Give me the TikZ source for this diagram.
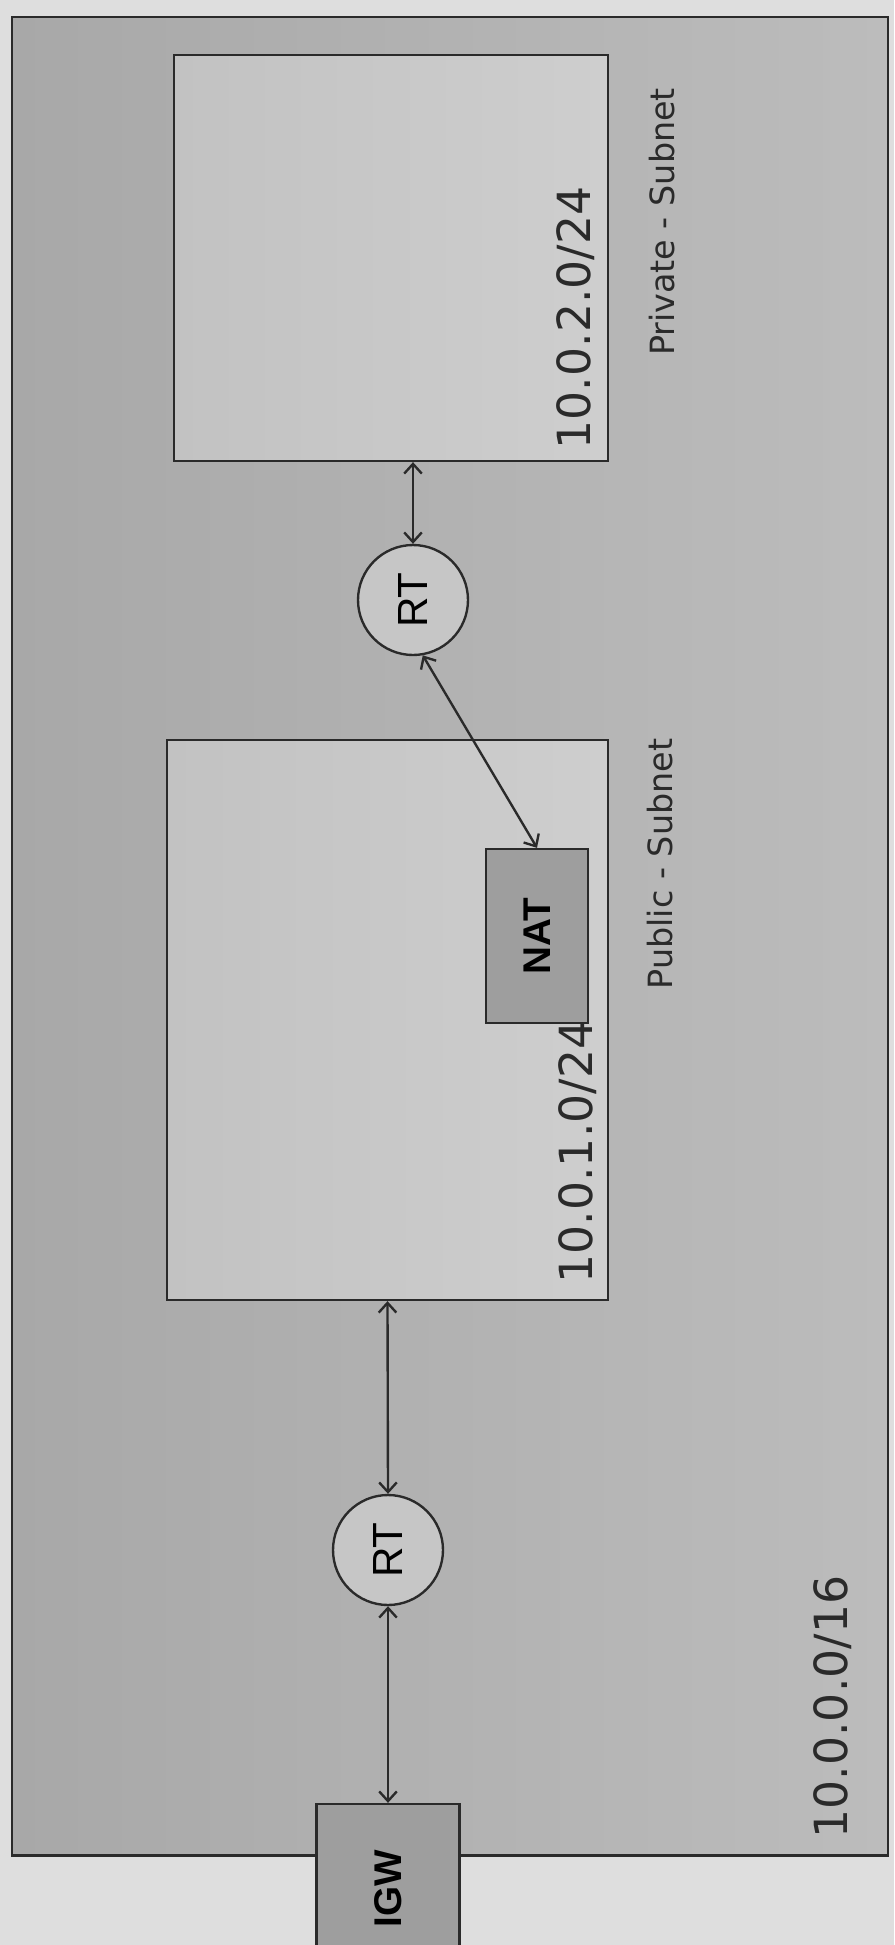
\documentclass[tikz,border=0pt]{standalone}
\usepackage{fontspec}
\setmainfont{DejaVu Sans}
\newfontfamily\tagfont{Liberation Sans}
\usetikzlibrary{arrows.meta}
\definecolor{paper}{HTML}{DEDEDE}
\definecolor{ink}{HTML}{2A2A2A}
\definecolor{vpcdark}{HTML}{A8A8A8}
\definecolor{vpcmid}{HTML}{C6C6C6}
\definecolor{vpclight}{HTML}{BCBCBC}
\definecolor{netdark}{HTML}{C2C2C2}
\definecolor{netmid}{HTML}{D8D8D8}
\definecolor{netlight}{HTML}{CECECE}
\definecolor{boxgray}{HTML}{9E9E9E}

\begin{document}
\begin{tikzpicture}[x=0.02cm,y=-0.02cm,>={Straight Barb[length=5.5pt,width=10pt]},line width=1.35pt,
 vpcbox/.style={draw=ink,left color=vpcdark,middle color=vpcmid,right color=vpclight,inner sep=0pt},
 netbox/.style={draw=ink,left color=netdark,middle color=netmid,right color=netlight,inner sep=0pt},
 tagbox/.style={draw=ink,fill=boxgray,rotate=90,inner sep=0pt,font=\tagfont\bfseries\fontsize{22}{24}\selectfont},
 router/.style={draw=ink,circle,fill=vpcmid,minimum size=2.2cm,inner sep=0pt,font=\tagfont\fontsize{24}{26}\selectfont},
 lbl/.style={rotate=90,inner sep=0pt,text=ink,font=\fontsize{26}{28}\selectfont},
 sublbl/.style={rotate=90,inner sep=0pt,text=ink,font=\fontsize{19}{21}\selectfont}]
\useasboundingbox (0,0) rectangle (894,1945);
\clip (0,0) rectangle (894,1945);
\fill[paper] (0,0) rectangle (894,1945);
% containers
\node[vpcbox,minimum width=17.52cm,minimum height=36.78cm] (vpc) at (450,936) {};
\node[netbox,minimum width=8.68cm,minimum height=8.12cm] (priv) at (391,258) {};
\node[netbox,minimum width=8.82cm,minimum height=11.2cm] (pub) at (387.5,1020) {};
% devices
\node[tagbox,minimum width=3.48cm,minimum height=2.04cm] (nat) at (537,936) {NAT};
\node[tagbox,minimum width=3.4cm,minimum height=2.86cm] (igw) at (388,1889) {IGW};
\node[router] (rt1) at (388,1550) {\rotatebox{90}{RT}};
\node[router] (rt2) at (413,600) {\rotatebox{90}{RT}};
% labels
\node[lbl] (ippriv) at (576,318) {10.0.2.0/24};
\node[lbl] (ippub) at (578,1152) {10.0.1.0/24};
\node[lbl] (ipvpc) at (833,1707) {10.0.0.0/16};
\node[sublbl] (privname) at (662,222) {Private - Subnet};
\node[sublbl] (pubname) at (660,864) {Public - Subnet};
% links
\draw[<->,draw=ink] (igw.east) -- (rt1.south);
\draw[<->,draw=ink] (rt1.north) -- (pub.south);
\draw[<->,draw=ink] (rt2.north) -- (rt2.north |- priv.south);
\draw[<->,draw=ink] (rt2.-80) -- (nat.east);
\end{tikzpicture}
\end{document}
